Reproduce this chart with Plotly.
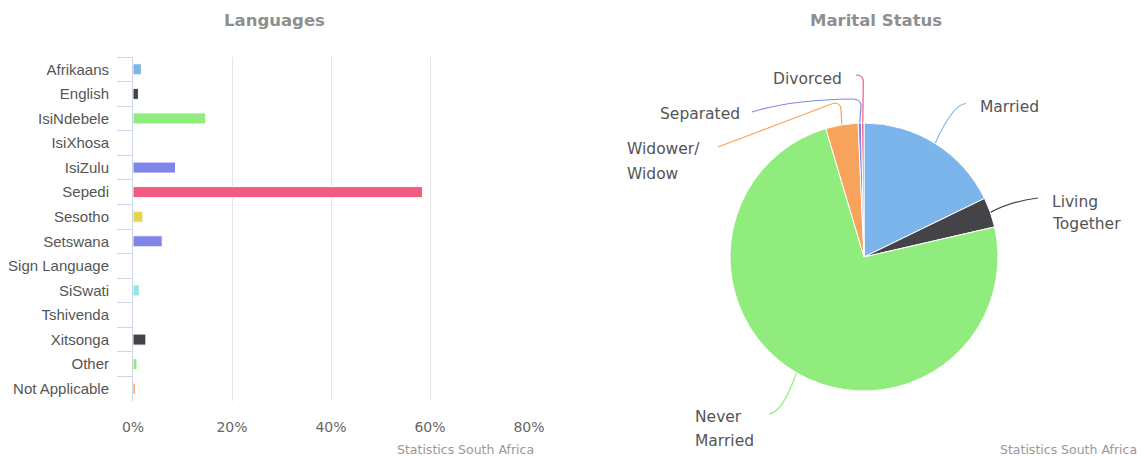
import math
import plotly.graph_objects as go

# ---------------- data ----------------
languages = ["Afrikaans", "English", "IsiNdebele", "IsiXhosa", "IsiZulu", "Sepedi",
             "Sesotho", "Setswana", "Sign Language", "SiSwati", "Tshivenda",
             "Xitsonga", "Other", "Not Applicable"]
language_pct = [1.7, 1.1, 14.7, 0.1, 8.6, 58.5, 2.0, 5.9, 0.1, 1.3, 0.05, 2.6, 0.8, 0.5]
language_colors = ["#7cb5ec", "#434348", "#90ed7d", "#f7a35c", "#8085e9", "#f15c80",
                   "#e4d354", "#8085e9", "#f15c80", "#91e8e1", "#7cb5ec", "#434348",
                   "#90ed7d", "#f7a35c"]
x_tick_vals = [0, 20, 40, 60, 80]
x_tick_text = ["0%", "20%", "40%", "60%", "80%"]

marital_labels = ["Married", "Living Together", "Never Married", "Widower/ Widow",
                  "Separated", "Divorced"]
marital_pct = [17.8, 3.6, 74.0, 3.9, 0.4, 0.3]
marital_colors = ["#7cb5ec", "#434348", "#90ed7d", "#f7a35c", "#8085e9", "#f15c80"]

# ---------------- layout constants (pixels) ----------------
W, H = 1142, 456
def px(x):
    return x / W
def py(y):
    return 1 - y / H
def pt(x, y):
    return f"{px(x):.5f},{py(y):.5f}"

bar_left, bar_right, bar_top, bar_bottom = 133, 529, 57, 401
pie_cx, pie_cy, pie_r = 864, 257, 134

fig = go.Figure()

fig.add_trace(go.Bar(
    x=language_pct, y=languages, orientation="h",
    marker=dict(color=language_colors, line=dict(color="white", width=1)),
    xaxis="x", yaxis="y", showlegend=False,
    hovertemplate="%{y}: %{x}%<extra></extra>",
))

fig.add_trace(go.Pie(
    labels=marital_labels, values=marital_pct, sort=False,
    direction="clockwise", rotation=0,
    marker=dict(colors=marital_colors, line=dict(color="white", width=1)),
    textinfo="none", showlegend=False, automargin=False,
    domain=dict(x=[px(pie_cx - pie_r), px(pie_cx + pie_r)],
                y=[py(pie_cy + pie_r), py(pie_cy - pie_r)]),
    hoverinfo="label+percent",
))

# ---------------- pie connectors, starting at computed slice mid-points ----------------
total = sum(marital_pct)
edges = []
acc = 0.0
for v in marital_pct:
    mid = (acc + v / 2) / total * 2 * math.pi
    acc += v
    edges.append((pie_cx + pie_r * math.sin(mid), pie_cy - pie_r * math.cos(mid)))

connector_paths = [
    lambda e: f"M {pt(*e)} Q {pt(953, 104)} {pt(966, 103.5)}",
    lambda e: f"M {pt(*e)} Q {pt(1012, 201)} {pt(1038, 198)}",
    lambda e: f"M {pt(*e)} Q {pt(783, 412)} {pt(769, 414)}",
    lambda e: f"M {pt(*e)} L {pt(841, 110)} Q {pt(841, 103)} {pt(834, 103)} L {pt(718, 147)}",
    lambda e: f"M {pt(*e)} L {pt(861, 106)} Q {pt(861, 99)} {pt(852, 99)} Q {pt(790, 100)} {pt(752, 112)}",
    lambda e: f"M {pt(*e)} L {pt(863.3, 82)} Q {pt(863.3, 75)} {pt(856, 75)}",
]
shapes = []
for f, e, c in zip(connector_paths, edges, marital_colors):
    shapes.append(dict(type="path", path=f(e), xref="paper", yref="paper",
                       line=dict(color=c, width=1.2), layer="below"))

label_lines = [
    ("Married", 978, 107),
    ("Living", 1050, 202), ("Together", 1050, 224),
    ("Never", 693, 417), ("Married", 693, 441),
    ("Widower/", 625, 149), ("Widow", 625, 174),
    ("Separated", 658, 114),
    ("Divorced", 771, 79),
]
annotations = []
for txt, x, y in label_lines:
    annotations.append(dict(text=txt, x=px(x), y=py(y), xref="paper", yref="paper",
                            xanchor="left", yanchor="middle", showarrow=False,
                            font=dict(family="DejaVu Sans", size=15.5, color="#555555")))

for txt, x in [("Languages", 274), ("Marital Status", 876)]:
    annotations.append(dict(text=txt, x=px(x), y=py(21), xref="paper", yref="paper",
                            xanchor="center", yanchor="middle", showarrow=False,
                            font=dict(family="DejaVu Sans", size=16.5, color="#8f8f8f",
                                      weight="bold")))

for x in [536, 1139]:
    annotations.append(dict(text="Statistics South Africa", x=px(x), y=py(449),
                            xref="paper", yref="paper", xanchor="right", yanchor="middle",
                            showarrow=False,
                            font=dict(family="DejaVu Sans", size=12.5, color="#999999")))

fig.update_layout(
    width=W, height=H, margin=dict(l=0, r=0, t=0, b=0, autoexpand=False),
    paper_bgcolor="white", plot_bgcolor="white",
    bargap=0.55,
    xaxis=dict(domain=[px(bar_left), px(bar_right)], range=[0, 80],
               tickvals=x_tick_vals, ticktext=x_tick_text,
               showgrid=True, gridcolor="#e6e6e6", gridwidth=1, zeroline=False,
               showline=False, ticks="", ticklabelstandoff=16, automargin=False,
               tickfont=dict(family="DejaVu Sans", size=14, color="#666666"),
               fixedrange=True),
    yaxis=dict(domain=[py(bar_bottom), py(bar_top)], type="category",
               categoryorder="array", categoryarray=languages,
               autorange="reversed", tickson="boundaries",
               ticks="outside", ticklen=15, tickcolor="#ccd6eb", tickwidth=1,
               ticklabelstandoff=20, automargin=False,
               showline=True, linecolor="#ccd6eb", linewidth=1,
               showgrid=False, zeroline=False,
               tickfont=dict(family="Liberation Sans, Arial", size=15, color="#555555"),
               fixedrange=True),
    shapes=shapes,
    annotations=annotations,
)

fig.write_html("out.html")
